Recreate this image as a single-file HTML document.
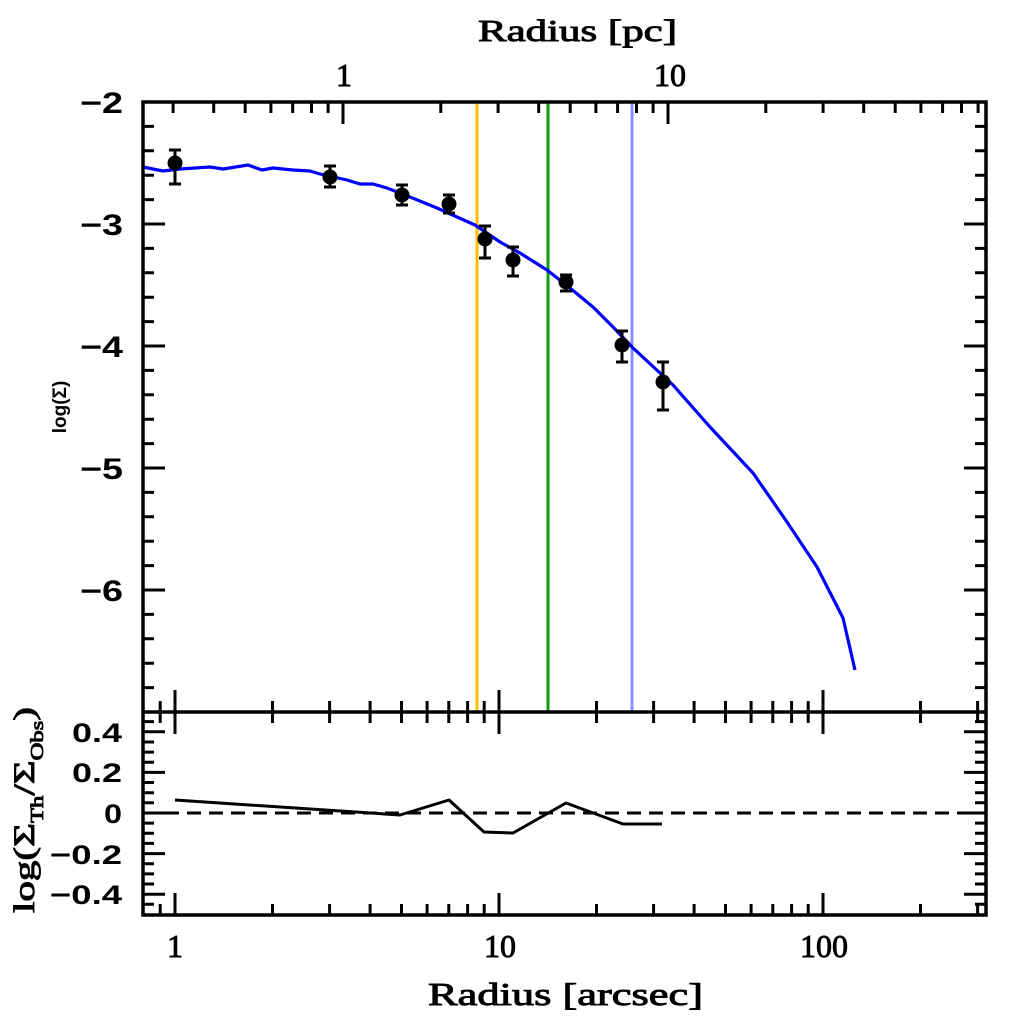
<!DOCTYPE html>
<html><head><meta charset="utf-8"><style>
html,body{margin:0;padding:0;background:#fff;}
svg{display:block;}
.tl{font-family:"Liberation Sans",sans-serif;font-weight:bold;fill:#000;}
.sf{font-family:"Liberation Serif",serif;font-weight:normal;fill:#000;stroke:#000;stroke-width:0.9px;}
</style></head><body>
<svg width="1024" height="1024" viewBox="0 0 1024 1024" xmlns="http://www.w3.org/2000/svg">
<rect x="0" y="0" width="1024" height="1024" fill="#fff"/>

<!-- vertical reference lines -->
<line x1="477" y1="102" x2="477" y2="712" stroke="#ffbe00" stroke-width="3"/>
<line x1="548" y1="102" x2="548" y2="712" stroke="#109a10" stroke-width="3"/>
<line x1="632" y1="102" x2="632" y2="712" stroke="#8c8cff" stroke-width="3"/>

<!-- model curve -->
<polyline fill="none" stroke="#0000ff" stroke-width="3.2" stroke-linejoin="round" points="143,167 163,171 180,169 210,167 223,169 248,165 262,170 273,168 293,170 310,171 320,174 347,180 360,184 373,184 387,188 410,197 437,208 457,217 475,225 500,242 520,253 547,270 570,288 593,307 613,327 633,348 660,373 673,385 710,427 753,473 787,522 817,567 843,618 855,670"/>

<!-- data points -->
<g stroke="#000" stroke-width="3" fill="#000">
<line x1="175" y1="150" x2="175" y2="184"/><line x1="169" y1="150" x2="181" y2="150"/><line x1="169" y1="184" x2="181" y2="184"/><circle cx="175" cy="163" r="7.5" stroke="none"/>
<line x1="330" y1="166" x2="330" y2="187"/><line x1="324" y1="166" x2="336" y2="166"/><line x1="324" y1="187" x2="336" y2="187"/><circle cx="330" cy="177" r="7.5" stroke="none"/>
<line x1="402" y1="185" x2="402" y2="205"/><line x1="396" y1="185" x2="408" y2="185"/><line x1="396" y1="205" x2="408" y2="205"/><circle cx="402" cy="195" r="7.5" stroke="none"/>
<line x1="449" y1="195" x2="449" y2="213"/><line x1="443" y1="195" x2="455" y2="195"/><line x1="443" y1="213" x2="455" y2="213"/><circle cx="449" cy="204" r="7.5" stroke="none"/>
<line x1="485" y1="226" x2="485" y2="258"/><line x1="479" y1="226" x2="491" y2="226"/><line x1="479" y1="258" x2="491" y2="258"/><circle cx="485" cy="239" r="7.5" stroke="none"/>
<line x1="513" y1="247" x2="513" y2="276"/><line x1="507" y1="247" x2="519" y2="247"/><line x1="507" y1="276" x2="519" y2="276"/><circle cx="513" cy="260" r="7.5" stroke="none"/>
<line x1="566" y1="275" x2="566" y2="291"/><line x1="560" y1="275" x2="572" y2="275"/><line x1="560" y1="291" x2="572" y2="291"/><circle cx="566" cy="282" r="7.5" stroke="none"/>
<line x1="622" y1="331" x2="622" y2="362"/><line x1="616" y1="331" x2="628" y2="331"/><line x1="616" y1="362" x2="628" y2="362"/><circle cx="622" cy="345" r="7.5" stroke="none"/>
<line x1="663" y1="362" x2="663" y2="410"/><line x1="657" y1="362" x2="669" y2="362"/><line x1="657" y1="410" x2="669" y2="410"/><circle cx="663" cy="382" r="7.5" stroke="none"/>
</g>

<!-- residual panel -->
<line x1="143" y1="813" x2="986" y2="813" stroke="#000" stroke-width="3" stroke-dasharray="14,8"/>
<polyline fill="none" stroke="#000" stroke-width="3" stroke-linejoin="round" points="175,800 400,815 449,800 484,832 513,833 566,803 623,824 662,824"/>

<!-- ticks -->
<g stroke="#000" stroke-width="3" fill="none">
<path d="M173.1,102v11 M213.7,102v11 M245.2,102v11 M270.9,102v11 M292.7,102v11 M311.5,102v11 M328.1,102v11 M440.8,102v11 M498.1,102v11 M538.7,102v11 M570.2,102v11 M595.9,102v11 M617.6,102v11 M636.5,102v11 M653.1,102v11 M765.8,102v11 M823.1,102v11 M863.7,102v11 M895.2,102v11 M920.9,102v11 M942.6,102v11 M961.5,102v11 M978.1,102v11"/>
<path d="M343,102v22 M668,102v22"/>
<path d="M160.2,701v22 M272.5,701v22 M329.6,701v22 M370.1,701v22 M401.5,701v22 M427.1,701v22 M448.8,701v22 M467.6,701v22 M484.2,701v22 M596.5,701v22 M653.6,701v22 M694.1,701v22 M725.5,701v22 M751.1,701v22 M772.8,701v22 M791.6,701v22 M808.2,701v22 M920.5,701v22 M977.6,701v22"/>
<path d="M175,690v44 M499,690v44 M823,690v44"/>
<path d="M160.2,915v-11 M272.5,915v-11 M329.6,915v-11 M370.1,915v-11 M401.5,915v-11 M427.1,915v-11 M448.8,915v-11 M467.6,915v-11 M484.2,915v-11 M596.5,915v-11 M653.6,915v-11 M694.1,915v-11 M725.5,915v-11 M751.1,915v-11 M772.8,915v-11 M791.6,915v-11 M808.2,915v-11 M920.5,915v-11 M977.6,915v-11"/>
<path d="M175,915v-22 M499,915v-22 M823,915v-22"/>
<path d="M143,126.4h11 M143,150.8h11 M143,175.2h11 M143,199.6h11 M143,248.4h11 M143,272.8h11 M143,297.2h11 M143,321.6h11 M143,370.4h11 M143,394.8h11 M143,419.2h11 M143,443.6h11 M143,492.4h11 M143,516.8h11 M143,541.2h11 M143,565.6h11 M143,614.4h11 M143,638.8h11 M143,663.2h11 M143,687.6h11"/>
<path d="M143,102h22 M143,224h22 M143,346h22 M143,468h22 M143,590h22"/>
<path d="M986,126.4h-11 M986,150.8h-11 M986,175.2h-11 M986,199.6h-11 M986,248.4h-11 M986,272.8h-11 M986,297.2h-11 M986,321.6h-11 M986,370.4h-11 M986,394.8h-11 M986,419.2h-11 M986,443.6h-11 M986,492.4h-11 M986,516.8h-11 M986,541.2h-11 M986,565.6h-11 M986,614.4h-11 M986,638.8h-11 M986,663.2h-11 M986,687.6h-11"/>
<path d="M986,102h-22 M986,224h-22 M986,346h-22 M986,468h-22 M986,590h-22"/>
<path d="M143,721.6h11 M143,742h11 M143,752.1h11 M143,762.2h11 M143,782.5h11 M143,792.7h11 M143,802.8h11 M143,823.1h11 M143,833.3h11 M143,843.4h11 M143,863.7h11 M143,873.9h11 M143,884h11 M143,904.3h11"/>
<path d="M143,731.8h22 M143,772.4h22 M143,813h22 M143,853.6h22 M143,894.2h22"/>
<path d="M986,721.6h-11 M986,742h-11 M986,752.1h-11 M986,762.2h-11 M986,782.5h-11 M986,792.7h-11 M986,802.8h-11 M986,823.1h-11 M986,833.3h-11 M986,843.4h-11 M986,863.7h-11 M986,873.9h-11 M986,884h-11 M986,904.3h-11"/>
<path d="M986,731.8h-22 M986,772.4h-22 M986,813h-22 M986,853.6h-22 M986,894.2h-22"/>
</g>

<!-- frame -->
<rect x="143" y="102" width="843" height="813" fill="none" stroke="#000" stroke-width="3.5"/>
<line x1="143" y1="712" x2="986" y2="712" stroke="#000" stroke-width="3.5"/>

<!-- top panel y labels -->
<g class="tl" font-size="30">
<text x="80" y="113" textLength="43" lengthAdjust="spacingAndGlyphs">−2</text>
<text x="80" y="235" textLength="43" lengthAdjust="spacingAndGlyphs">−3</text>
<text x="80" y="357" textLength="43" lengthAdjust="spacingAndGlyphs">−4</text>
<text x="80" y="479" textLength="43" lengthAdjust="spacingAndGlyphs">−5</text>
<text x="80" y="601" textLength="43" lengthAdjust="spacingAndGlyphs">−6</text>
</g>
<!-- bottom panel y labels -->
<g class="tl" font-size="27">
<text x="72" y="742" textLength="50" lengthAdjust="spacingAndGlyphs">0.4</text>
<text x="72" y="782" textLength="50" lengthAdjust="spacingAndGlyphs">0.2</text>
<text x="104" y="823" textLength="18" lengthAdjust="spacingAndGlyphs">0</text>
<text x="50" y="864" textLength="72" lengthAdjust="spacingAndGlyphs">−0.2</text>
<text x="50" y="904" textLength="72" lengthAdjust="spacingAndGlyphs">−0.4</text>
</g>
<!-- x labels -->
<g class="sf" font-size="32" text-anchor="middle">
<text x="175" y="957">1</text>
<text x="500" y="957">10</text>
<text x="824" y="957">100</text>
<text x="344" y="86">1</text>
<text x="670" y="86">10</text>
</g>
<text class="sf" font-size="31" x="478" y="41" textLength="199" lengthAdjust="spacingAndGlyphs">Radius [pc]</text>
<text class="sf" font-size="32" x="428" y="1005" textLength="275" lengthAdjust="spacingAndGlyphs">Radius [arcsec]</text>

<!-- y titles -->
<text class="tl" font-size="19" transform="translate(66,407) rotate(-90)" text-anchor="middle">log(Σ)</text>
<text class="sf" font-size="30" transform="translate(34,810) rotate(-90)" text-anchor="middle" textLength="206" lengthAdjust="spacingAndGlyphs">log(Σ<tspan font-size="18" dy="9">Th</tspan><tspan dy="-9">/Σ</tspan><tspan font-size="18" dy="9">Obs</tspan><tspan dy="-9">)</tspan></text>
</svg>
</body></html>
